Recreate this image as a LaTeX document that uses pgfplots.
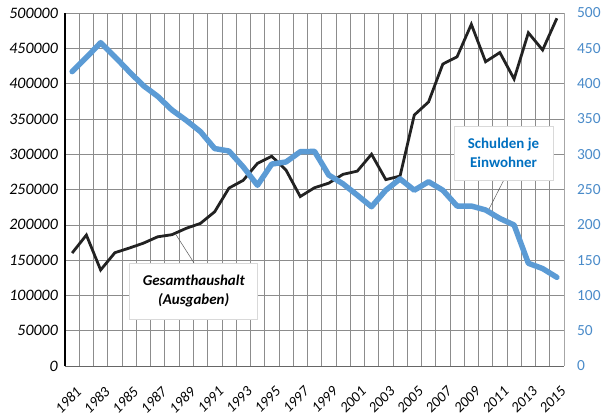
\documentclass[border=0pt]{standalone}
\usepackage{fontspec}
\setmainfont{Carlito}
\usepackage{pgfplots}
\pgfplotsset{compat=1.18}
\definecolor{serblue}{HTML}{5B9BD5}
\definecolor{tickblue}{HTML}{4A8BC9}
\definecolor{annblue}{HTML}{0070C0}
\definecolor{serblack}{HTML}{222222}
\definecolor{gridgray}{HTML}{8C8C8C}

\pgfplotstableread{
year ausgaben
1981 160000
1982 185500
1983 136000
1984 160500
1985 167000
1986 174000
1987 183000
1988 186000
1989 195000
1990 202000
1991 218500
1992 252000
1993 263000
1994 287000
1995 297000
1996 277600
1997 240000
1998 252500
1999 259000
2000 271500
2001 276000
2002 300000
2003 264000
2004 269000
2005 355500
2006 374000
2007 427700
2008 438000
2009 484000
2010 431000
2011 444000
2012 406500
2013 472000
2014 447600
2015 492500
}\ausgaben

\pgfplotstableread{
year schulden
1981 417
1982 437
1983 458
1984 438
1985 417
1986 397
1987 382
1988 362.6
1989 348
1990 332
1991 308
1992 304.5
1993 282
1994 256
1995 286
1996 289
1997 303.5
1998 304
1999 270.5
2000 258
2001 242
2002 225.6
2003 249
2004 265
2005 249
2006 261
2007 249
2008 226.6
2009 226.6
2010 221
2011 209
2012 199.7
2013 145.5
2014 138
2015 125.6
}\schulden

\begin{document}
\begin{tikzpicture}
\begin{axis}[
  scale only axis, width=499bp, height=353bp,
  xmin=1980.5, xmax=2015.5, ymin=0, ymax=500000,
  axis x line*=bottom, axis y line*=left,
  axis line style={-},
  x axis line style={draw=gray!80!black, line width=0.8pt},
  y axis line style={draw=black, line width=1.1pt},
  xtick={1981,1983,...,2015},
  xticklabels={1981,1983,1985,1987,1989,1991,1993,1995,1997,1999,2001,2003,2005,2007,2009,2011,2013,2015},
  minor xtick={1981.5,1982.5,...,2014.5},
  xminorgrids, xmajorgrids=false,
  ytick={0,50000,...,500000},
  yticklabels={0,50000,100000,150000,200000,250000,300000,350000,400000,450000,500000},
  ymajorgrids,
  grid style={gridgray, line width=0.6pt},
  minor grid style={gridgray, line width=0.6pt},
  major tick length=0pt, minor tick length=0pt,
  scaled y ticks=false,
  /pgf/number format/assume math mode=true,
  x tick label style={xshift=3pt, yshift=-19pt, rotate=45, anchor=north east, font=\fontsize{14.8}{14.8}\selectfont\itshape, text=black, inner sep=0.5pt},
  y tick label style={font=\fontsize{16}{16}\selectfont\itshape, text=black, inner sep=1pt, xshift=-6pt},
]
\addplot[serblack, line width=2.8pt, line join=miter, miter limit=3] table[x=year, y=ausgaben] {\ausgaben};
\draw[gray!70!black, line width=0.5pt] (axis cs:1988.3,185500) -- (axis cs:1989.55,146000);
\node[draw=gray!30, fill=white, line width=1pt, align=center, minimum width=128bp, minimum height=56bp, inner sep=0pt,
      font=\fontsize{15}{19}\selectfont\bfseries\itshape, text=black] at (axis cs:1989.53,106200) {Gesamthaushalt\\(Ausgaben)};
\draw[gray!70!black, line width=0.5pt] (axis cs:2010.18,220000) -- (axis cs:2011.28,263400);
\node[draw=gray!30, fill=white, line width=1pt, align=center, minimum width=99bp, minimum height=54bp, inner sep=0pt,
      font=\fontsize{15}{19}\selectfont\bfseries, text=annblue] at (axis cs:2011.26,301700) {Schulden je\\Einwohner};
\end{axis}
\begin{axis}[
  scale only axis, width=499bp, height=353bp,
  xmin=1980.5, xmax=2015.5, ymin=0, ymax=500,
  axis x line=none, axis y line*=right,
  axis line style={-},
  y axis line style={draw=gray!70, line width=0.8pt},
  ytick={0,50,...,500},
  yticklabels={0,50,100,150,200,250,300,350,400,450,500},
  major tick length=0pt,
  /pgf/number format/assume math mode=true,
  y tick label style={font=\fontsize{15.5}{15.5}\selectfont, text=tickblue, inner sep=1pt, xshift=12pt, anchor=west},
]
\addplot[serblue, line width=5.5pt, line join=round, line cap=round] table[x=year, y=schulden] {\schulden};
\end{axis}
\pgfresetboundingbox
\path[use as bounding box] (-65bp,-53bp) rectangle (541bp,366bp);
\end{tikzpicture}
\end{document}
